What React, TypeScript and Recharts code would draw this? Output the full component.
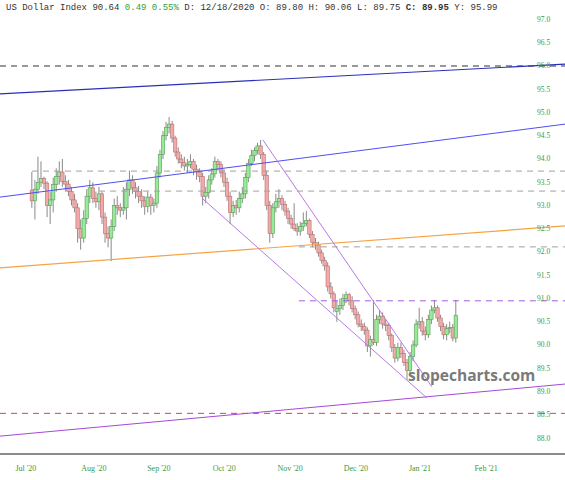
import React from 'react';
import { ComposedChart, Bar, XAxis, YAxis, ReferenceLine } from 'recharts';

const opens = [93.33,93.10,93.35,93.50,93.58,93.48,93.00,93.12,93.45,93.62,
93.72,93.52,93.46,93.30,93.12,92.95,92.50,92.30,92.72,93.20,
93.38,93.15,93.08,93.25,92.75,92.40,92.30,92.55,93.00,92.95,
92.90,92.95,93.35,93.55,93.38,93.30,93.20,93.10,92.98,93.18,
93.00,93.05,93.70,94.10,94.50,94.68,94.75,94.45,94.15,94.00,
93.92,93.85,93.88,93.95,93.78,93.72,93.62,93.20,93.28,93.55,
93.68,93.95,93.88,93.70,93.50,93.20,92.85,93.00,92.95,93.15,
93.25,93.60,93.90,94.08,94.18,94.28,94.10,93.65,93.00,92.40,
92.95,93.08,93.15,93.02,92.88,92.72,92.60,92.50,92.45,92.55,
92.62,92.68,92.38,92.20,92.15,91.98,91.82,91.70,91.25,91.10,
90.72,90.78,90.85,91.00,91.08,90.95,90.78,90.65,90.45,90.40,
90.32,89.98,90.12,90.05,90.55,90.62,90.45,90.42,90.20,89.95,
89.72,89.95,89.82,89.62,89.45,89.75,90.00,90.45,90.50,90.30,
90.22,90.55,90.75,90.80,90.58,90.40,90.22,90.35,90.38,90.15];

const highs = [93.72,93.55,94.05,93.95,93.62,93.52,93.30,93.60,93.80,93.95,
94.00,93.65,93.55,93.40,93.25,93.05,92.70,92.90,93.35,93.55,
93.50,93.30,93.40,93.30,92.85,92.55,92.70,93.15,93.20,93.05,
93.40,93.50,93.75,93.65,93.50,93.42,93.35,93.20,93.30,93.25,
93.15,93.85,94.20,94.60,94.80,94.90,94.82,94.50,94.25,94.10,
94.05,94.00,94.10,94.00,93.88,93.80,93.70,93.40,93.65,93.80,
94.05,94.00,93.95,93.78,93.60,93.30,93.10,93.12,93.30,93.40,
93.70,94.00,94.20,94.25,94.35,94.41,94.15,93.75,93.10,93.05,
93.25,93.35,93.22,93.10,92.95,92.80,93.05,92.62,92.65,92.85,
92.88,92.72,92.45,92.30,92.22,92.05,91.90,91.78,91.35,91.15,
90.95,91.00,91.10,91.15,91.12,91.05,90.85,90.72,90.55,90.48,
90.38,90.20,90.97,90.65,90.75,90.70,90.55,90.48,90.25,90.02,
90.05,90.05,89.90,89.70,89.85,90.10,90.55,90.80,90.60,90.40,
90.65,90.85,90.97,90.85,90.65,90.48,90.45,90.50,90.45,90.97];

const lows = [92.95,92.70,93.25,93.40,93.35,92.75,92.60,92.85,93.30,93.45,
93.40,93.30,93.20,93.00,92.85,92.20,92.05,92.20,92.60,93.05,
93.05,92.95,92.90,92.60,92.20,92.10,91.80,92.45,92.80,92.75,
92.80,92.70,93.20,93.25,93.15,93.05,92.95,92.80,92.85,92.80,
92.85,92.95,93.60,94.00,94.40,94.55,94.35,94.05,93.90,93.80,
93.75,93.70,93.80,93.65,93.55,93.50,93.00,93.05,93.15,93.45,
93.60,93.75,93.60,93.40,93.10,92.60,92.75,92.80,92.85,93.05,
93.15,93.50,93.85,93.95,94.10,94.00,93.55,92.90,92.20,92.30,
92.85,92.95,92.90,92.78,92.60,92.50,92.45,92.35,92.35,92.45,
92.55,92.30,92.10,92.05,91.90,91.75,91.60,91.15,91.00,90.70,
90.50,90.65,90.75,90.90,90.85,90.70,90.55,90.38,90.30,90.22,
89.85,89.75,90.00,89.98,90.45,90.35,90.30,90.10,89.85,89.62,
89.65,89.72,89.55,89.25,89.38,89.65,89.95,90.35,90.20,90.10,
90.15,90.45,90.68,90.50,90.30,90.12,90.10,90.25,90.08,90.05];

const closes = [93.10,93.35,93.50,93.58,93.48,93.00,93.12,93.45,93.62,93.72,
93.52,93.46,93.30,93.12,92.95,92.50,92.30,92.72,93.20,93.38,
93.15,93.08,93.25,92.75,92.40,92.30,92.55,93.00,92.95,92.90,
92.95,93.35,93.55,93.38,93.30,93.20,93.10,92.98,93.18,93.00,
93.05,93.70,94.10,94.50,94.68,94.75,94.45,94.15,94.00,93.92,
93.85,93.88,93.95,93.78,93.72,93.62,93.20,93.28,93.55,93.68,
93.95,93.88,93.70,93.50,93.20,92.85,93.00,92.95,93.15,93.25,
93.60,93.90,94.08,94.18,94.28,94.10,93.65,93.00,92.40,92.95,
93.08,93.15,93.02,92.88,92.72,92.60,92.50,92.45,92.55,92.62,
92.68,92.38,92.20,92.15,91.98,91.82,91.70,91.25,91.10,90.80,
90.78,90.85,91.00,91.08,90.95,90.78,90.65,90.45,90.40,90.32,
89.98,90.12,90.05,90.55,90.62,90.45,90.42,90.20,89.95,89.72,
89.95,89.82,89.62,89.45,89.75,90.00,90.45,90.50,90.30,90.22,
90.55,90.75,90.80,90.58,90.40,90.22,90.35,90.38,90.15,90.64];

// month ticks (trading-day index) and labels
const monthTicks = [-2, 20.3, 41.6, 63, 84.6, 106.2, 127.2, 148.9];
const monthLabels = ["Jul '20", "Aug '20", "Sep '20", "Oct '20", "Nov '20", "Dec '20", "Jan '21", "Feb '21"];
const priceTicks = [88.0, 88.5, 89.0, 89.5, 90.0, 90.5, 91.0, 91.5, 92.0, 92.5, 93.0, 93.5, 94.0, 94.5, 95.0, 95.5, 96.0, 96.5, 97.0];

const X_DOMAIN: [number, number] = [-10.49, 174.75];
const Y_DOMAIN: [number, number] = [87.656, 97.419];

// trend lines: [x1, y1, x2, y2, colour, width]
const trendLines: [number, number, number, number, string, number][] = [
  [-10.49, 95.40, 174.75, 96.04, '#2a2fb8', 1.2],
  [-10.49, 93.18, 174.75, 94.75, '#4f4ff0', 1],
  [-10.49, 91.66, 174.75, 92.56, '#f5a345', 1.2],
  [-10.49, 88.04, 174.75, 89.16, '#a748d8', 1],
  [75.7, 94.41, 131.1, 89.10, '#b57ae6', 1],
  [55.7, 93.16, 129.5, 88.86, '#b57ae6', 1],
];

// horizontal dashed levels: [startX, price, colour]
const levels: [number, number, string][] = [
  [-10.49, 96.0, '#333333'],
  [0, 93.74, '#a0a0a0'],
  [22, 93.31, '#a0a0a0'],
  [87.5, 92.11, '#a0a0a0'],
  [87.5, 90.95, '#a65be0'],
  [-10.49, 88.53, '#d8404c'],
];

const data = closes.map((c, i) => ({
  i,
  o: opens[i],
  h: highs[i],
  l: lows[i],
  c,
  range: [lows[i], highs[i]],
}));

const Candle = (props: any) => {
  const { x, y, width, height, payload } = props;
  if (payload == null) return null;
  const { o, h, l, c } = payload;
  const span = h - l || 0.0001;
  const toPx = (v: number) => y + ((h - v) / span) * height;
  const cx = x + width / 2;
  const up = c >= o;
  const top = toPx(Math.max(o, c));
  const bot = toPx(Math.min(o, c));
  const bh = Math.max(1, bot - top);
  return (
    <g>
      <line x1={cx} x2={cx} y1={y} y2={y + height} stroke="#8a8a8a" strokeWidth={1} />
      <rect
        x={cx - 1.7}
        y={top}
        width={3.4}
        height={bh}
        fill={up ? '#95ec95' : '#f2a9a9'}
        stroke={up ? '#5a9a5a' : '#b87070'}
        strokeWidth={0.6}
      />
    </g>
  );
};

const YTick = (props: any) => {
  const { y, payload } = props;
  return (
    <text x={537} y={y + 2.5} fontSize={7.5} fill="#3d9a3d" fontFamily="'Liberation Serif', 'Times New Roman', serif" textAnchor="start">
      {Number(payload.value).toFixed(1)}
    </text>
  );
};

const XTick = (props: any) => {
  const { x, y, payload } = props;
  const idx = monthTicks.indexOf(payload.value);
  return (
    <text x={x} y={y + 9} fontSize={8} fill="#3d9a3d" fontFamily="'Liberation Serif', 'Times New Roman', serif" textAnchor="middle">
      {idx >= 0 ? monthLabels[idx] : ''}
    </text>
  );
};

export default function App() {
  return (
    <div style={{ position: 'absolute', left: 0, top: 0, width: 565, height: 480, background: '#fff', overflow: 'hidden' }}>
      <ComposedChart width={565} height={480} data={data} margin={{ top: 0, right: 0, bottom: 0, left: 0 }}>
        <XAxis
          dataKey="i"
          type="number"
          domain={X_DOMAIN}
          ticks={monthTicks}
          allowDataOverflow
          height={26}
          tickLine={false}
          axisLine={{ stroke: '#8c8c8c', strokeWidth: 2 }}
          tick={<XTick />}
          interval={0}
        />
        <YAxis
          type="number"
          domain={Y_DOMAIN}
          ticks={priceTicks}
          allowDataOverflow
          orientation="right"
          mirror
          width={30}
          axisLine={false}
          tickLine={false}
          tick={<YTick />}
          interval={0}
        />
        {levels.map(([sx, p, col], k) => (
          <ReferenceLine
            key={'lv' + k}
            segment={[{ x: sx, y: p }, { x: X_DOMAIN[1], y: p }]}
            stroke={col}
            strokeWidth={1}
            strokeDasharray="6 5"
            ifOverflow="visible"
          />
        ))}
        {trendLines.map(([x1, y1, x2, y2, col, w], k) => (
          <ReferenceLine
            key={'tl' + k}
            segment={[{ x: x1, y: y1 }, { x: x2, y: y2 }]}
            stroke={col}
            strokeWidth={w}
            ifOverflow="visible"
          />
        ))}
        <Bar dataKey="range" barSize={4} shape={<Candle />} isAnimationActive={false} />
      </ComposedChart>
      <div style={{ position: 'absolute', left: 6, top: 3, fontFamily: "'Liberation Mono', 'Courier New', monospace", fontSize: 9, color: '#333', whiteSpace: 'pre' }}>
        {'US Dollar Index 90.64 '}
        <span style={{ color: '#3a9a3a' }}>{'0.49 0.55%'}</span>
        {' D: 12/18/2020 O: 89.80 H: 90.06 L: 89.75 '}
        <b>{'C: 89.95'}</b>
        {' Y: 95.99'}
      </div>
      <div style={{ position: 'absolute', left: 408, top: 364, fontFamily: "'Open Sans', 'Noto Sans', sans-serif", fontWeight: 700, fontSize: 15.5, color: '#7a7a7a', whiteSpace: 'pre' }}>
        slopecharts.com
      </div>
    </div>
  );
}
